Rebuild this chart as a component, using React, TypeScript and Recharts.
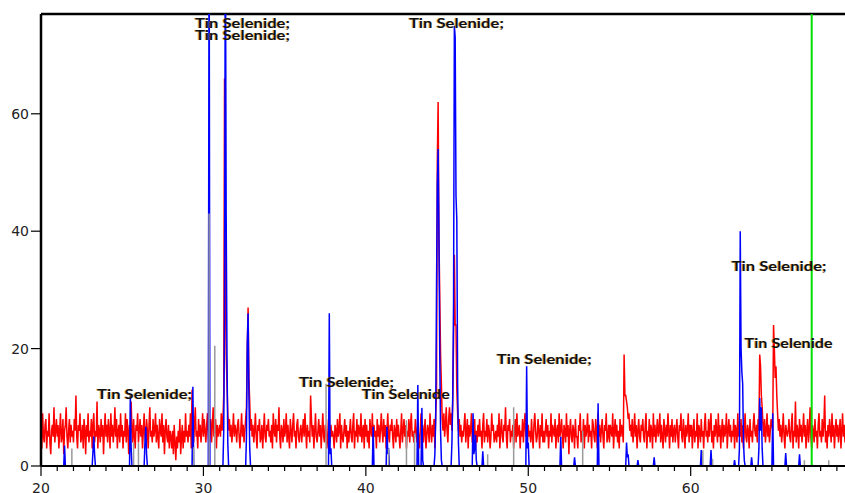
import {
  ComposedChart,
  Line,
  XAxis,
  YAxis,
  ReferenceLine,
  ReferenceDot,
} from "recharts";

// measured pattern: counts per 0.05° step, one row per degree (20°–69°)
const START = 20;
const STEP = 0.05;
const measured: number[][] = [
  [6, 3, 9, 5, 4, 7, 8, 3, 6, 5, 9, 4, 2, 6, 7, 5, 10, 4, 6, 8],
  [5, 7, 3, 6, 9, 4, 5, 8, 2, 6, 7, 10, 5, 3, 6, 8, 4, 7, 5, 6],
  [4, 8, 6, 12, 5, 3, 7, 6, 9, 4, 5, 7, 3, 8, 6, 2, 7, 5, 9, 4],
  [6, 5, 8, 3, 7, 9, 4, 6, 5, 11, 3, 7, 6, 4, 8, 5, 7, 2, 6, 9],
  [5, 7, 4, 8, 6, 3, 9, 5, 7, 4, 6, 10, 5, 8, 3, 6, 7, 4, 9, 5],
  [7, 3, 6, 5, 9, 4, 8, 6, 2, 7, 5, 11, 6, 4, 8, 5, 3, 7, 6, 9],
  [4, 6, 8, 5, 7, 3, 6, 9, 5, 4, 8, 6, 3, 7, 10, 5, 6, 4, 8, 5],
  [6, 9, 4, 7, 5, 3, 8, 6, 5, 9, 4, 7, 2, 6, 8, 5, 4, 7, 3, 6],
  [5, 3, 6, 2, 7, 4, 1, 5, 3, 6, 4, 8, 2, 5, 7, 3, 6, 4, 9, 5],
  [6, 4, 7, 5, 9, 3, 13, 8, 4, 7, 10, 5, 6, 3, 8, 5, 7, 4, 6, 9],
  [5, 8, 6, 4, 7, 9, 5, 3, 6, 8, 4, 7, 10, 5, 6, 8, 3, 7, 5, 6],
  [7, 5, 9, 6, 8, 12, 66, 30, 19, 14, 9, 6, 8, 5, 7, 4, 6, 9, 5, 7],
  [6, 4, 7, 8, 5, 3, 6, 9, 5, 7, 4, 6, 8, 10, 20, 27, 15, 11, 6, 8],
  [5, 7, 4, 6, 9, 5, 3, 7, 6, 8, 4, 5, 7, 3, 6, 9, 5, 4, 7, 6],
  [8, 5, 6, 4, 7, 3, 9, 6, 5, 8, 4, 7, 6, 10, 5, 3, 7, 6, 4, 8],
  [5, 6, 9, 4, 7, 5, 3, 8, 6, 4, 7, 9, 5, 6, 3, 7, 8, 5, 4, 6],
  [7, 4, 6, 8, 5, 9, 6, 3, 7, 5, 6, 4, 12, 8, 5, 7, 3, 6, 9, 5],
  [4, 6, 8, 5, 7, 3, 6, 9, 5, 4, 7, 6, 3, 5, 8, 6, 4, 7, 5, 6],
  [5, 3, 7, 6, 4, 8, 5, 6, 9, 3, 7, 5, 4, 6, 8, 5, 7, 3, 6, 4],
  [6, 8, 5, 4, 7, 9, 3, 6, 5, 8, 4, 7, 6, 5, 9, 4, 6, 7, 3, 8],
  [5, 7, 4, 6, 3, 8, 6, 5, 9, 4, 7, 5, 6, 3, 8, 5, 7, 4, 6, 9],
  [6, 4, 8, 5, 7, 3, 6, 9, 5, 4, 7, 6, 8, 5, 3, 7, 6, 4, 8, 5],
  [7, 5, 3, 6, 9, 4, 6, 8, 5, 7, 3, 6, 5, 8, 4, 7, 9, 5, 6, 4],
  [5, 8, 6, 4, 7, 5, 3, 6, 9, 5, 7, 4, 6, 8, 3, 5, 7, 6, 4, 9],
  [6, 4, 7, 5, 8, 3, 9, 12, 52, 62, 39, 29, 19, 14, 8, 6, 9, 5, 7, 10],
  [6, 4, 8, 10, 7, 9, 6, 11, 21, 36, 24, 24, 13, 9, 6, 8, 5, 7, 4, 6],
  [5, 7, 9, 4, 6, 8, 3, 7, 5, 6, 9, 4, 7, 5, 8, 3, 6, 4, 7, 5],
  [8, 5, 6, 3, 7, 9, 4, 6, 5, 8, 4, 7, 6, 3, 5, 9, 6, 7, 4, 5],
  [6, 4, 7, 5, 9, 3, 6, 8, 5, 4, 7, 6, 10, 5, 3, 7, 6, 8, 4, 6],
  [5, 7, 3, 6, 8, 4, 9, 5, 6, 7, 3, 6, 5, 8, 4, 7, 9, 5, 6, 4],
  [7, 5, 6, 4, 8, 5, 3, 7, 9, 6, 4, 5, 8, 6, 3, 7, 5, 9, 4, 6],
  [4, 6, 8, 5, 7, 3, 6, 5, 9, 4, 7, 6, 5, 8, 3, 6, 7, 4, 9, 5],
  [6, 8, 5, 3, 7, 6, 4, 9, 5, 7, 2, 6, 8, 5, 4, 7, 6, 3, 8, 5],
  [5, 3, 7, 6, 9, 4, 6, 5, 8, 3, 7, 5, 6, 9, 4, 7, 5, 6, 3, 8],
  [7, 5, 4, 8, 6, 3, 9, 5, 7, 4, 6, 8, 5, 3, 7, 6, 9, 4, 5, 7],
  [4, 7, 6, 5, 9, 3, 6, 8, 5, 7, 4, 6, 3, 8, 5, 7, 6, 4, 19, 12],
  [12, 11, 10, 8, 9, 6, 7, 5, 8, 4, 6, 9, 5, 7, 3, 6, 8, 5, 4, 7],
  [6, 8, 5, 4, 7, 9, 3, 6, 5, 8, 4, 7, 6, 3, 9, 5, 7, 4, 6, 8],
  [5, 6, 9, 4, 7, 5, 3, 8, 6, 4, 7, 5, 9, 6, 3, 7, 5, 8, 4, 6],
  [7, 4, 6, 8, 5, 3, 7, 6, 9, 5, 4, 8, 6, 3, 7, 5, 6, 9, 4, 7],
  [5, 7, 3, 6, 8, 4, 6, 5, 9, 3, 7, 6, 4, 8, 5, 6, 3, 7, 9, 5],
  [6, 4, 8, 5, 7, 9, 4, 6, 3, 7, 5, 8, 6, 4, 9, 5, 7, 3, 6, 8],
  [4, 7, 5, 6, 9, 3, 6, 8, 5, 7, 4, 6, 5, 8, 3, 7, 6, 4, 9, 5],
  [6, 5, 8, 4, 7, 3, 6, 9, 5, 4, 7, 6, 3, 8, 5, 6, 4, 7, 9, 6],
  [5, 7, 4, 8, 6, 19, 17, 12, 10, 7, 5, 8, 4, 6, 9, 5, 7, 4, 6, 8],
  [7, 6, 24, 20, 15, 17, 12, 9, 6, 8, 5, 7, 4, 6, 9, 5, 3, 7, 6, 5],
  [6, 8, 5, 4, 7, 9, 3, 6, 5, 11, 4, 7, 6, 3, 8, 5, 7, 4, 6, 9],
  [5, 7, 3, 6, 8, 4, 6, 10, 5, 3, 7, 6, 4, 8, 5, 6, 3, 7, 9, 5],
  [6, 4, 8, 5, 7, 12, 4, 6, 3, 7, 5, 8, 6, 4, 9, 5, 7, 3, 6, 8],
  [5, 7, 4, 6, 8, 3, 6, 9, 5, 7, 4, 6, 8, 5, 3, 7, 6, 4, 9, 5],
];

// calculated profile [2θ, intensity]
const calculated: [number, number][] = [
  [20, 0],
  [21.4, 0], [21.45, 3.5], [21.5, 0],
  [23.15, 0], [23.2, 2.5], [23.25, 5], [23.3, 2], [23.35, 0],
  [25.45, 0], [25.5, 12], [25.55, 3], [25.6, 0],
  [26.35, 0], [26.4, 4], [26.45, 6.7], [26.5, 2], [26.55, 0],
  [29.3, 0], [29.35, 13.5], [29.4, 0],
  [30.3, 0], [30.35, 95], [30.4, 0],
  [31.2, 0], [31.25, 6], [31.3, 25], [31.35, 95], [31.4, 43],
  [31.45, 19], [31.5, 4], [31.55, 0],
  [32.6, 0], [32.65, 5], [32.7, 21], [32.75, 26], [32.8, 12],
  [32.85, 3], [32.9, 0],
  [37.7, 0], [37.75, 26], [37.8, 2], [37.85, 3], [37.9, 0],
  [40.4, 0], [40.45, 6.7], [40.5, 0],
  [41.25, 0], [41.3, 6.7], [41.35, 2], [41.4, 3], [41.45, 0],
  [43.15, 0], [43.2, 13.8], [43.25, 0],
  [43.4, 0], [43.45, 9.9], [43.5, 1], [43.55, 0],
  [44.2, 0], [44.25, 2], [44.3, 8], [44.35, 30],
  [44.4, 48], [44.45, 54], [44.5, 39], [44.55, 19], [44.6, 6], [44.65, 1],
  [44.7, 0],
  [45.25, 0], [45.3, 4], [45.35, 12], [45.4, 28], [45.45, 75], [45.5, 73],
  [45.55, 46], [45.6, 42], [45.65, 14], [45.7, 4], [45.75, 0],
  [46.55, 0], [46.6, 9], [46.65, 2], [46.7, 3], [46.75, 5.3], [46.8, 1], [46.85, 0],
  [47.15, 0], [47.2, 2.5], [47.25, 0],
  [49.85, 0], [49.9, 17], [49.95, 3], [50.0, 4], [50.05, 0],
  [51.95, 0], [52.0, 5], [52.05, 0],
  [52.8, 0], [52.85, 1.5], [52.9, 0],
  [54.25, 0], [54.3, 10.7], [54.35, 0],
  [56.0, 0], [56.05, 4], [56.1, 1.5], [56.15, 2], [56.2, 0],
  [56.7, 0], [56.75, 1], [56.8, 0],
  [57.7, 0], [57.75, 1.5], [57.8, 0],
  [60.6, 0], [60.65, 2.7], [60.7, 0],
  [61.2, 0], [61.25, 2.7], [61.3, 0],
  [62.65, 0], [62.7, 1], [62.75, 0],
  [62.95, 0], [63.0, 3], [63.05, 40], [63.1, 20], [63.15, 16], [63.2, 14],
  [63.25, 4], [63.3, 1], [63.35, 0],
  [63.7, 0], [63.75, 1.5], [63.8, 0],
  [64.15, 0], [64.2, 3], [64.25, 11.6], [64.3, 6], [64.35, 10], [64.4, 3], [64.45, 0],
  [65.0, 0], [65.05, 9], [65.1, 0],
  [65.8, 0], [65.85, 2.2], [65.9, 0],
  [66.65, 0], [66.7, 2], [66.75, 0],
  [69.5, 0],
];

// reference stick pattern [2θ, intensity]
const sticks: [number, number][] = [
  [21.9, 3], [25.7, 4], [26.0, 4], [29.4, 3.2], [30.35, 43], [30.7, 20.5],
  [37.55, 14], [41.4, 3], [42.5, 7.8], [43.0, 5.6], [47.5, 2], [49.1, 10],
  [53.35, 6], [60.75, 2.7], [61.35, 1.2], [67.0, 1], [68.5, 1],
];

// phase annotations [2θ, intensity, text]
const phaseLabels: [number, number, string][] = [
  [23.45, 11.4, "Tin Selenide;"],
  [29.48, 74.55, "Tin Selenide;"],
  [29.48, 72.6, "Tin Selenide;"],
  [42.65, 74.55, "Tin Selenide;"],
  [35.88, 13.45, "Tin Selenide;"],
  [39.75, 11.4, "Tin Selenide"],
  [48.06, 17.36, "Tin Selenide;"],
  [62.52, 33.19, "Tin Selenide;"],
  [63.32, 20.09, "Tin Selenide"],
];

const cursor2Theta = 67.45;
const xTicks = Array.from({ length: 50 }, (_, i) => 20 + i);
const yTicks = [0, 20, 40, 60];

const measuredData = measured.flatMap((row, i) =>
  row.map((y, k) => ({ t: +(START + i + k * STEP).toFixed(2), y }))
);
const calculatedData = calculated.map(([t, y]) => ({ t, y }));
const stickData = sticks.flatMap(([t, h]) => [
  { t, y: 0 },
  { t, y: h },
  { t, y: 0 },
]);

function XTick({ x, y, payload }: any) {
  const major = payload.value % 10 === 0;
  return (
    <g>
      <line x1={x} x2={x} y1={y} y2={y + (major ? 10 : 5)} stroke="#000" strokeWidth={1.2} />
      {major && (
        <text
          x={x}
          y={y + 27}
          textAnchor="middle"
          fill="#222"
          fontSize={14}
          fontFamily="DejaVu Sans, sans-serif"
        >
          {payload.value}
        </text>
      )}
    </g>
  );
}

function PhaseTag({ cx, cy, text }: any) {
  const len = text.endsWith(";") ? 95 : 88;
  const common = {
    y: cy,
    fontSize: 13,
    fontWeight: 700,
    fontFamily: "Lato, sans-serif",
    textLength: len,
    lengthAdjust: "spacingAndGlyphs" as const,
  };
  return (
    <g>
      <text x={cx - 1} {...common} fill="#c88400" opacity={0.55}>
        {text}
      </text>
      <text x={cx} {...common} fill="#111">
        {text}
      </text>
    </g>
  );
}

export default function App() {
  return (
    <div style={{ position: "absolute", left: 0, top: 0, background: "#fff" }}>
      <ComposedChart
        width={845}
        height={493}
        data={measuredData}
        margin={{ top: 14, right: 0, bottom: 0, left: 0 }}
      >
        <XAxis
          dataKey="t"
          type="number"
          domain={[20, 69.5]}
          allowDataOverflow
          ticks={xTicks}
          interval={0}
          height={27}
          tickSize={0}
          tickMargin={0}
          tickLine={false}
          axisLine={{ stroke: "#000", strokeWidth: 2 }}
          tick={<XTick />}
        />
        <YAxis
          type="number"
          domain={[0, 77]}
          allowDataOverflow
          ticks={yTicks}
          width={41}
          tickSize={10}
          tickLine={{ stroke: "#000", strokeWidth: 1.2 }}
          axisLine={{ stroke: "#000", strokeWidth: 2.5 }}
          tick={{ fill: "#222", fontSize: 14, fontFamily: "DejaVu Sans, sans-serif" }}
        />
        <ReferenceLine y={77} stroke="#000" strokeWidth={2.5} />
        <Line
          dataKey="y"
          type="linear"
          stroke="#ff0000"
          strokeWidth={1.5}
          dot={false}
          activeDot={false}
          isAnimationActive={false}
        />
        <Line
          data={calculatedData}
          dataKey="y"
          type="linear"
          stroke="#0000ff"
          strokeWidth={1.5}
          dot={false}
          activeDot={false}
          isAnimationActive={false}
        />
        <Line
          data={stickData}
          dataKey="y"
          type="linear"
          stroke="#9a9a9a"
          strokeWidth={1.5}
          dot={false}
          activeDot={false}
          isAnimationActive={false}
        />
        <ReferenceLine x={cursor2Theta} stroke="#00e000" strokeWidth={2} />
        {phaseLabels.map(([t, y, text], i) => (
          <ReferenceDot
            key={i}
            x={t}
            y={y}
            r={0}
            shape={(p: any) => <PhaseTag cx={p.cx} cy={p.cy} text={text} />}
          />
        ))}
      </ComposedChart>
    </div>
  );
}
